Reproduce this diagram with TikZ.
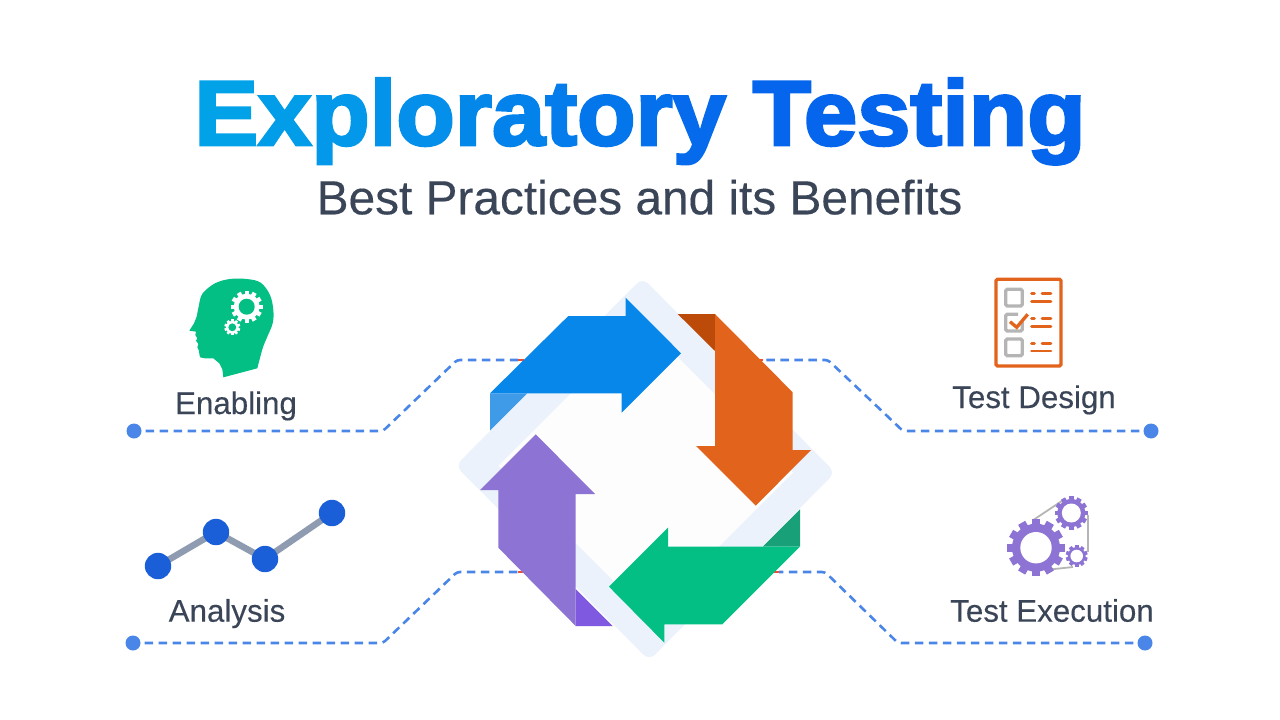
\documentclass[tikz,border=0pt]{standalone}
\usepackage{fontspec}
\setmainfont[FakeBold=0.25]{Liberation Sans}
\newfontfamily\titlefont[FakeBold=3,FakeStretch=1.04]{Liberation Sans Bold}
\definecolor{titleStart}{HTML}{02A2E9}
\definecolor{titleEnd}{HTML}{0565EC}
\definecolor{textDark}{HTML}{3A4558}
\definecolor{dashBlue}{HTML}{4A86E8}
\definecolor{framePale}{HTML}{EBF2FB}
\definecolor{innerPale}{HTML}{FDFDFD}
\definecolor{arrowBlue}{HTML}{0787EA}
\definecolor{foldBlue}{HTML}{3F9BE8}
\definecolor{arrowOrange}{HTML}{E2641C}
\definecolor{foldOrange}{HTML}{BC4A08}
\definecolor{arrowGreen}{HTML}{03BF84}
\definecolor{foldGreen}{HTML}{18A078}
\definecolor{arrowPurple}{HTML}{8C73D4}
\definecolor{foldPurple}{HTML}{7F5AE0}
\definecolor{dotBlue}{HTML}{1A5FD8}
\definecolor{lineGray}{HTML}{8E9BB0}
\definecolor{boxGray}{HTML}{B5B5B5}
\definecolor{redTip}{HTML}{F04E30}
\newcommand{\tl}[2]{\textcolor{titleStart!#1!titleEnd}{#2}}
\newcommand{\gearicon}[6]{%
  \pgfmathsetmacro{\toothw}{3.14159*#4/#5/1.55}
  \foreach \k in {1,...,#5}{
    \fill[#6,shift={(#1,#2)},rotate=\k*360/#5] (-\toothw,0) rectangle (\toothw,#3);
  }
  \fill[#6] (#1,#2) circle (#4);
}
\tikzset{
  dashline/.style={dashBlue,line width=2.6pt,dash pattern=on 8.5pt off 5.5pt,dash phase=10pt,rounded corners=3pt},
  redline/.style={redTip,line width=2.6pt},
  enddot/.style={circle,fill=dashBlue,minimum size=15pt,inner sep=0},
  chartdot/.style={circle,fill=dotBlue,minimum size=26.4pt,inner sep=0},
  label/.style={textDark,anchor=base,inner sep=0,font=\fontsize{31.3}{32}\selectfont},
  sheetline/.style={arrowOrange,line width=2.8pt,line cap=round},
  checkbox/.style={boxGray,line width=3.3pt,rounded corners=1.5pt},
}
\begin{document}
\begin{tikzpicture}[x=1pt,y=-1pt]
  \useasboundingbox (0,0) rectangle (1280,720);

  \node[anchor=base,inner sep=0,font=\titlefont\fontsize{92}{92}\selectfont] (title) at (640,145)
    {\tl{100}{E}\tl{92}{x}\tl{84}{p}\tl{76}{l}\tl{68}{o}\tl{58}{r}\tl{48}{a}\tl{38}{t}\tl{28}{o}\tl{18}{r}\tl{9}{y} \tl{0}{Testing}};
  \node[anchor=base,inner sep=0,textDark,font=\fontsize{47.8}{48}\selectfont] (subtitle) at (639.5,214.3) {Best Practices and its Benefits};

  \node[enddot] (dotEnabling) at (134,431) {};
  \coordinate (bendEnablingA) at (383,431);
  \coordinate (bendEnablingB) at (457,360);
  \coordinate (endEnabling) at (518,360);
  \draw[dashline] (dotEnabling) -- (bendEnablingA) -- (bendEnablingB) -- (endEnabling);
  \draw[redline] (endEnabling) -- ++(6,0);

  \node[enddot] (dotDesign) at (1151,431) {};
  \coordinate (bendDesignA) at (903,431);
  \coordinate (bendDesignB) at (828,360);
  \coordinate (endDesign) at (763,360);
  \draw[dashline] (dotDesign) -- (bendDesignA) -- (bendDesignB) -- (endDesign);
  \draw[redline] (endDesign) -- ++(-6,0);

  \node[enddot] (dotAnalysis) at (133,643) {};
  \coordinate (bendAnalysisA) at (383,643);
  \coordinate (bendAnalysisB) at (457,572);
  \coordinate (endAnalysis) at (518,572);
  \draw[dashline] (dotAnalysis) -- (bendAnalysisA) -- (bendAnalysisB) -- (endAnalysis);
  \draw[redline] (endAnalysis) -- ++(6,0);

  \node[enddot] (dotExecution) at (1145,643) {};
  \coordinate (bendExecutionA) at (898,643);
  \coordinate (bendExecutionB) at (825,572);
  \coordinate (endExecution) at (779,572);
  \draw[dashline] (dotExecution) -- (bendExecutionA) -- (bendExecutionB) -- (endExecution);
  \draw[redline] (endExecution) -- ++(-6,0);

  \fill[framePale,rounded corners=8pt] (642.5,277.8) -- (835.2,472.5) -- (649.2,660.5) -- (455.5,465.8) -- cycle;
  \fill[innerPale] (642.5,321.8) -- (793.2,472.5) -- (649.2,616.5) -- (498.5,465.8) -- cycle;

  \fill[foldBlue] (490,393.3) -- (527.3,393.3) -- (490,430.7) -- cycle;
  \fill[foldOrange] (677.7,314) -- (715,314) -- (715,351) -- cycle;
  \fill[foldGreen] (800,546.7) -- (762.7,546.7) -- (800,509.3) -- cycle;
  \fill[foldPurple] (575.7,626) -- (612.7,626) -- (575.7,589) -- cycle;

  \fill[arrowBlue] (490,393.3) -- (568.3,316) -- (625.7,316) -- (625.7,297.7) -- (681,353.3) -- (621.7,412.7) -- (621.7,393.3) -- cycle;
  \fill[arrowOrange] (715,314) -- (792.7,392.3) -- (792.7,450) -- (811,450) -- (755.7,505.7) -- (696,446) -- (715,446) -- cycle;
  \fill[arrowGreen] (800,546.7) -- (722.3,624.3) -- (664.3,624.3) -- (664.3,642.7) -- (609,586.7) -- (668,527.7) -- (668,546.7) -- cycle;
  \fill[arrowPurple] (575.7,626) -- (498.3,547.7) -- (498.3,490) -- (480,490) -- (535.7,434.3) -- (595,494) -- (575.7,494) -- cycle;

  \begin{scope}[shift={(170,270)},scale=0.3333]
    \fill[arrowGreen] plot[smooth,tension=0.6] coordinates {(88,100) (98,70) (135,40) (180,27) (230,27) (272,38) (300,75) (310,120) (308,160) (292,200) (278,235) (262,295)}
      -- (160,322) -- (157,298) -- (148,280) -- (130,265) -- (105,265) -- (90,262) -- (86,240) -- (82,232) -- (85,222) -- (78,212) -- (82,205) -- (76,195) -- (78,185) -- (58,182) -- (72,160) -- (80,140) -- cycle;
  \end{scope}
  \gearicon{246.7}{306.7}{16}{13}{12}{white}
  \fill[arrowGreen] (246.7,306.7) circle (8);
  \gearicon{232.3}{327.3}{8}{6.4}{10}{white}
  \fill[arrowGreen] (232.3,327.3) circle (3.9);
  \node[label] (enabling) at (236,414) {Enabling};

  \draw[arrowOrange,line width=3.3pt,rounded corners=1.5pt] (996,279.3) rectangle (1061,366);
  \draw[checkbox] (1005.7,289.3) rectangle (1022.3,306);
  \draw[checkbox] (1018,314.3) -- (1005.7,314.3) -- (1005.7,331) -- (1022.3,331) -- (1022.3,322);
  \draw[checkbox] (1005.7,339) rectangle (1022.3,355.7);
  \draw[arrowOrange,line width=3.3pt] (1010,321.7) -- (1016.7,327.3) -- (1027.7,314.3);
  \foreach \rowy in {293.7,318.7,343.3}{
    \draw[sheetline] (1031.5,\rowy) -- (1034.5,\rowy);
    \draw[sheetline] (1042,\rowy) -- (1051,\rowy);
    \draw[sheetline] (1031.5,\rowy+7.6) -- (1051,\rowy+7.6);
  }
  \node[label] (design) at (1034,408) {Test Design};

  \draw[lineGray,line width=6.5pt] (158,566) -- (216,532) -- (265,559) -- (332,513);
  \node[chartdot] (pointA) at (158,566) {};
  \node[chartdot] (pointB) at (216,532) {};
  \node[chartdot] (pointC) at (265,559) {};
  \node[chartdot] (pointD) at (332,513) {};
  \node[label] (analysis) at (227,621.7) {Analysis};

  \draw[boxGray,line width=1.8pt] (1033.3,520) -- (1063.3,500);
  \draw[boxGray,line width=1.8pt] (1087.7,515) -- (1087.7,552);
  \draw[boxGray,line width=1.8pt] (1051.7,569.3) -- (1073,567);
  \gearicon{1036}{547.7}{28.7}{24}{12}{arrowPurple}
  \fill[white] (1036,547.7) circle (15.7);
  \gearicon{1071.3}{513}{16.7}{14}{12}{arrowPurple}
  \fill[white] (1071.3,513) circle (9.5);
  \gearicon{1076.7}{556}{11}{9}{10}{arrowPurple}
  \fill[white] (1076.7,556) circle (6.3);
  \node[label] (execution) at (1052,621.7) {Test Execution};
\end{tikzpicture}
\end{document}
